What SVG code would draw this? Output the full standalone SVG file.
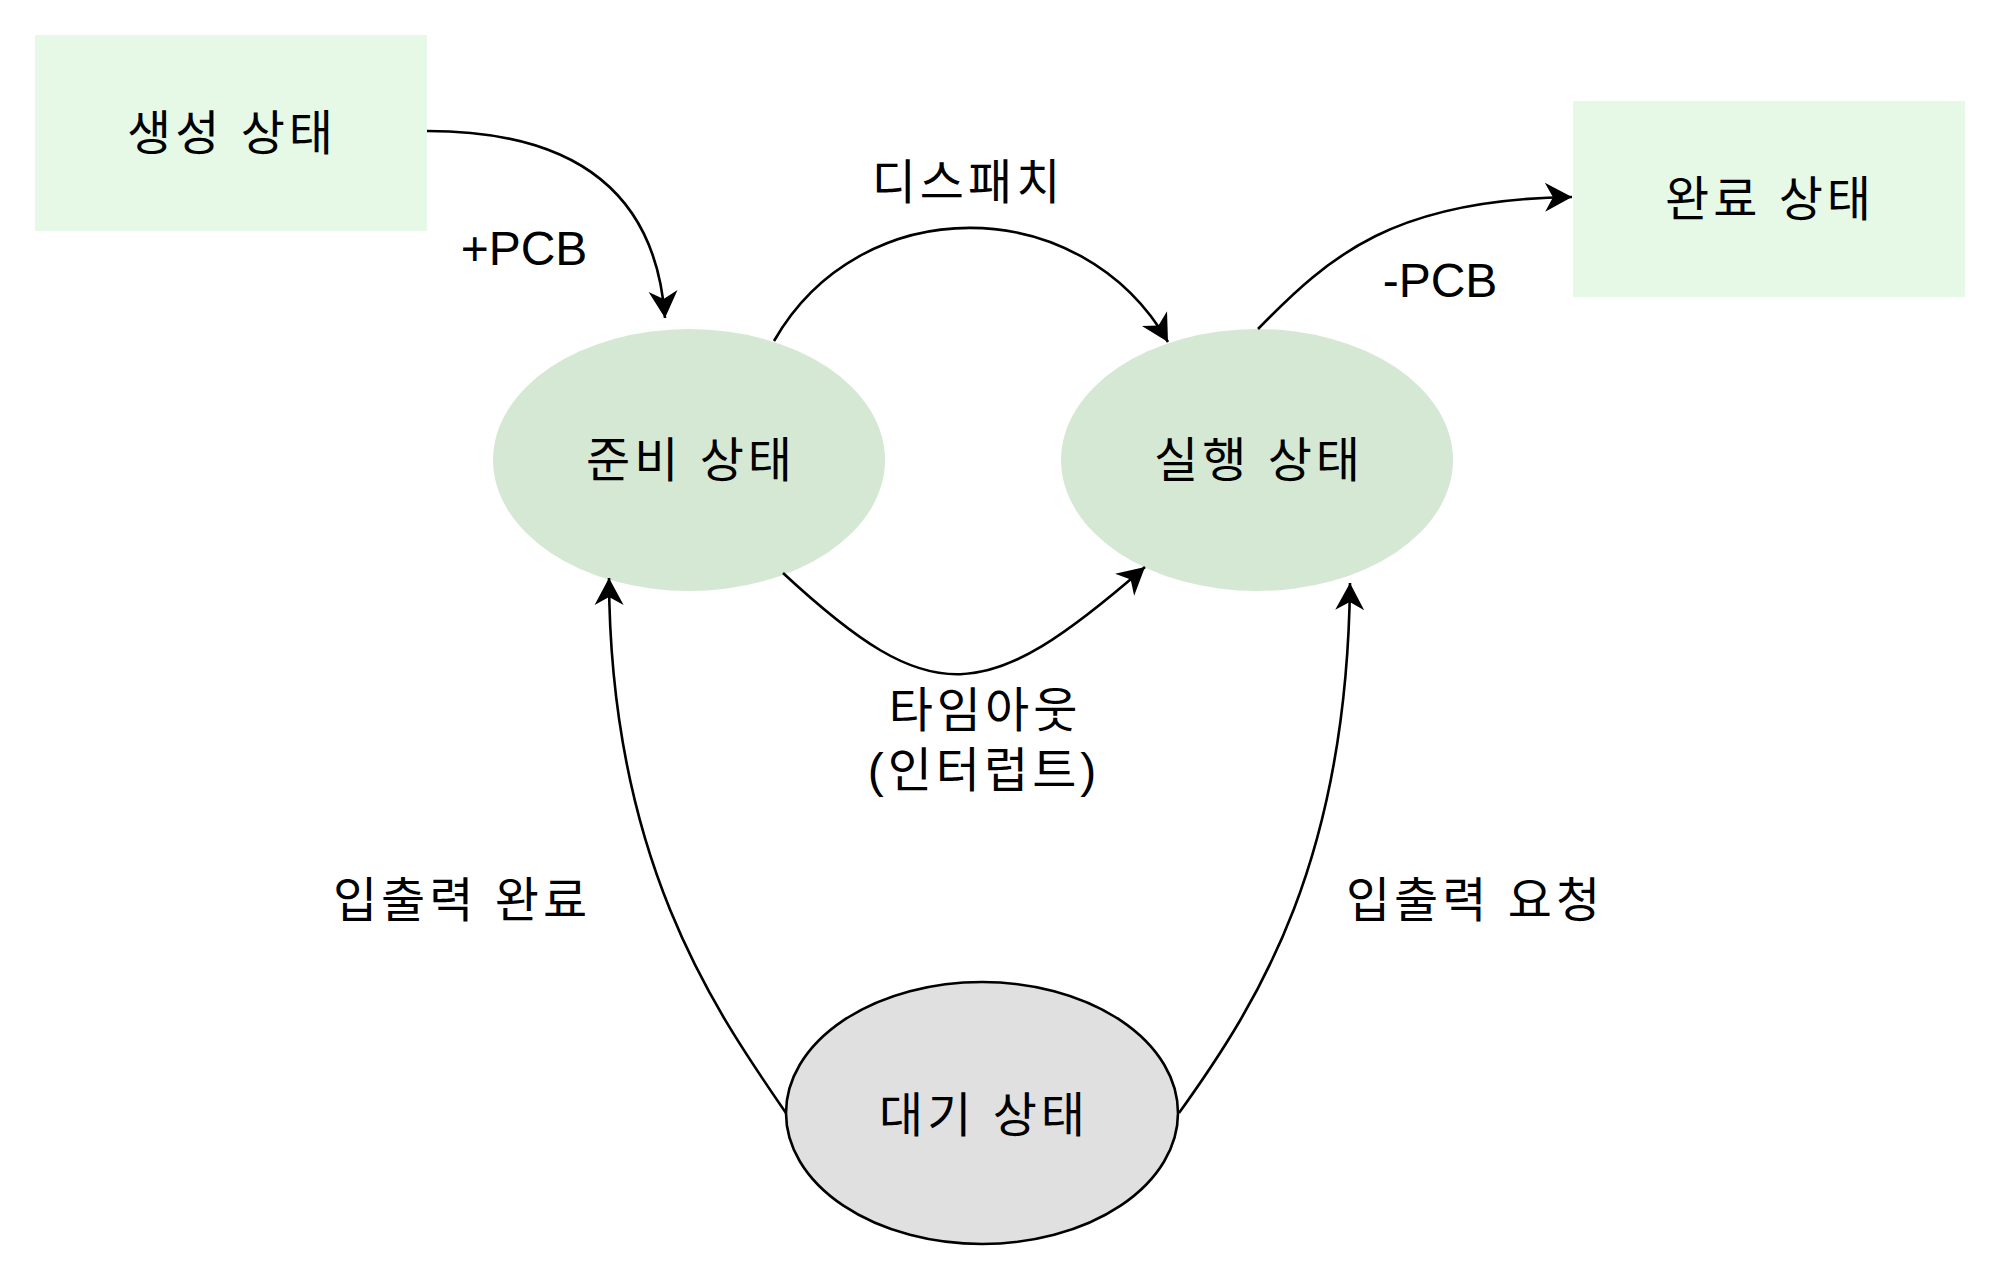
<svg xmlns="http://www.w3.org/2000/svg" width="2000" height="1280" viewBox="0 0 2000 1280">
  <style>
    .t { font-family: "Liberation Sans", "Noto Sans CJK KR", sans-serif; font-size: 48px; fill: #000; text-anchor: middle; }
    .k { letter-spacing: 4px; }
    .box { fill: #e6f8e6; stroke: none; }
    .st { fill: #d5e8d4; stroke: none; }
    .wait { fill: #e0e0e0; stroke: #000; stroke-width: 2.6; }
    .edge { fill: none; stroke: #000; stroke-width: 2.6; marker-end: url(#arr); }
  </style>
  <defs>
    <marker id="arr" markerUnits="userSpaceOnUse" markerWidth="32" markerHeight="32" viewBox="-30 -16 32 32" refX="0" refY="0" orient="auto">
      <path d="M0,0 L-27,-14.5 L-19,0 L-27,14.5 Z" fill="#000"/>
    </marker>
  </defs>
  <rect width="2000" height="1280" fill="#fff"/>

  <g id="node-create">
    <rect class="box" x="35" y="35" width="392" height="196"/>
    <text class="t k" x="232" y="150">생성 상태</text>
  </g>
  <g id="node-done">
    <rect class="box" x="1573" y="101" width="392" height="196"/>
    <text class="t k" x="1770" y="216">완료 상태</text>
  </g>
  <g id="node-ready">
    <ellipse class="st" cx="689" cy="460" rx="196" ry="131"/>
    <text class="t k" x="691" y="477">준비 상태</text>
  </g>
  <g id="node-run">
    <ellipse class="st" cx="1257" cy="460" rx="196" ry="131"/>
    <text class="t k" x="1259" y="477">실행 상태</text>
  </g>
  <g id="node-wait">
    <ellipse class="wait" cx="982" cy="1113" rx="196" ry="131"/>
    <text class="t k" x="984" y="1132">대기 상태</text>
  </g>

  <g id="connectors">
    <path class="edge" d="M427,131 C560,131 655,180 665,318"/>
    <path class="edge" d="M774,341 C860,190 1080,190 1168,342"/>
    <path class="edge" d="M1258,329 C1330,255 1395,199 1572,197"/>
    <path class="edge" d="M783,573 C933,712 985,706 1145,567"/>
    <path class="edge" d="M786,1113 C715,1010 610,860 609,578"/>
    <path class="edge" d="M1179,1113 C1260,1000 1347,860 1350,583"/>
    <text class="t" x="524" y="265">+PCB</text>
    <text class="t k" x="968" y="199">디스패치</text>
    <text class="t" x="1440" y="297">-PCB</text>
    <text class="t k" x="985" y="727">타임아웃</text>
    <text class="t k" x="984" y="787">(인터럽트)</text>
    <text class="t k" x="462" y="917">입출력 완료</text>
    <text class="t k" x="1475" y="917">입출력 요청</text>
  </g>
</svg>
